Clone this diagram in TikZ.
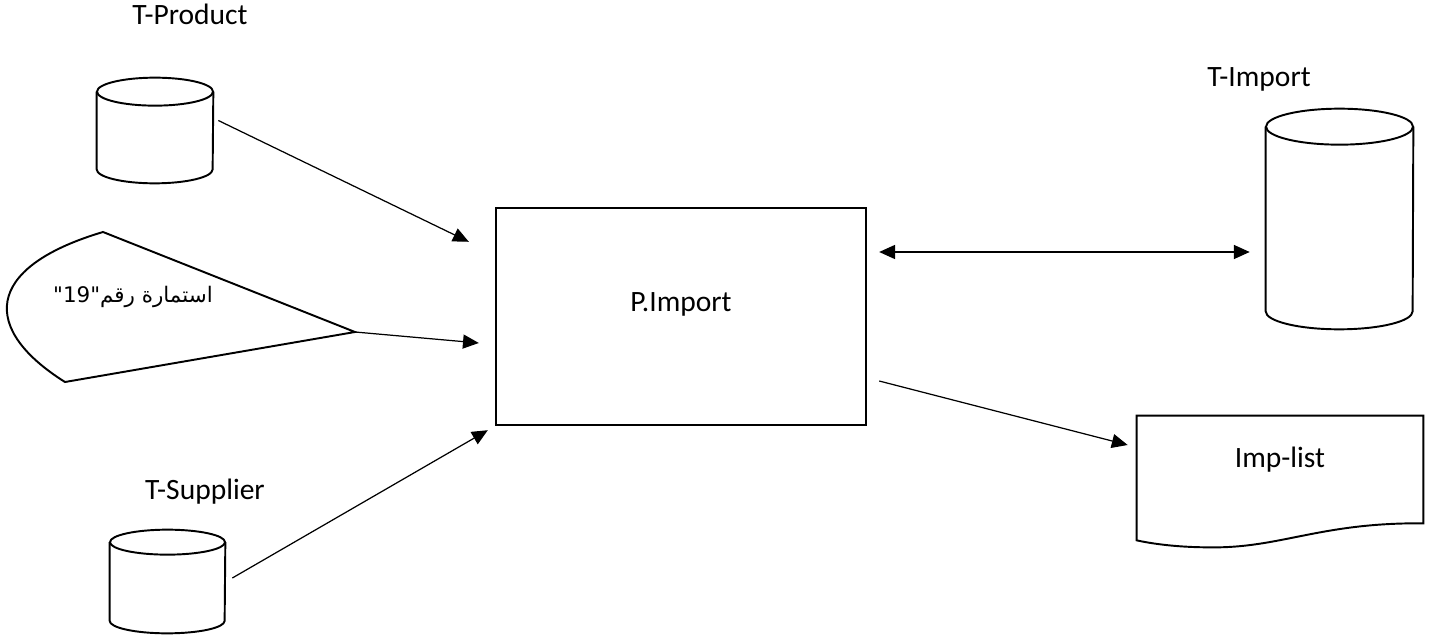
\documentclass[tikz,border=0pt]{standalone}
\usepackage{fontspec}
\setmainfont{Carlito}
\newfontfamily\arabicfont[Script=Arabic]{DejaVu Sans}
\TeXXeTstate=1
\usetikzlibrary{arrows.meta}

\tikzset{
	dbcyl/.style={inner sep=0pt},
	cylline/.style={line width=1.1pt},
	lbl/.style={text height=11pt, text depth=3.5pt},
	flowline/.style={line width=0.7pt}
}
% cylinder round a node: #1 node, #2 x radius, #3 y radius of the ends
\newcommand{\drawcyl}[3]{
	\draw[cylline] ([yshift=-#3]#1.north) ellipse [x radius=#2, y radius=#3];
	\draw[cylline] ([yshift=-#3]#1.north west) -- ([yshift=#3]#1.south west)
		arc[start angle=180, end angle=360, x radius=#2, y radius=#3] -- ([yshift=-#3]#1.north east);
}

\begin{document}
\begin{tikzpicture}[x=0.02cm, y=-0.02cm, font=\fontsize{16.8}{20}\selectfont, >={Triangle[length=9pt,width=8pt]}]
	\useasboundingbox (0,0) rectangle (1436,638);

	%stores
	\node[dbcyl, minimum width=2.32cm, minimum height=2.1cm] (product) at (155,130.5) {};
	\node[dbcyl, minimum width=2.3cm, minimum height=2.06cm] (supplier) at (167.5,581.5) {};
	\node[dbcyl, minimum width=2.94cm, minimum height=4.4cm] (import) at (1339.5,219) {};
	\drawcyl{product}{1.16cm}{0.28cm}
	\drawcyl{supplier}{1.15cm}{0.25cm}
	\drawcyl{import}{1.47cm}{0.36cm}

	%store labels
	\node[lbl] (lblproduct) at (190,18) {T-Product};
	\node[lbl] (lblsupplier) at (205,493) {T-Supplier};
	\node[lbl] (lblimport) at (1259,80) {T-Import};

	%process
	\node[draw, line width=1.4pt, minimum width=7.4cm, minimum height=4.34cm, inner sep=0pt, text depth=16pt] (pimport) at (681,316.5) {P.Import};

	%form
	\coordinate (formtip) at (355,332);
	\draw[line width=1.1pt] (formtip) -- (103,232) .. controls (-18,268) and (-18,330) .. (65,382) -- cycle;
	\node[font=\arabicfont\fontsize{12.2}{15}\selectfont] (form) at (133,297) {\beginR استمارة رقم"\beginL19\endL"\endR};

	%report
	\node[minimum width=5.72cm, minimum height=1.76cm, inner sep=0pt] (implist) at (1280,460) {Imp-list};
	\draw[line width=1.1pt] ([shift={(0,36)}]implist.south west) -- (implist.north west) -- (implist.north east)
		-- ([shift={(0,19)}]implist.south east)
		.. controls ([shift={(-103,18)}]implist.south east) and ([shift={(-143,44)}]implist.south east) .. ([shift={(-213,43)}]implist.south east)
		.. controls ([shift={(-248,43)}]implist.south east) and ([shift={(-273,39)}]implist.south east) .. ([shift={(0,36)}]implist.south west)
		-- cycle;

	%arrows
	\draw[flowline,->] ([shift={(5,-10)}]product.east) -- ([shift={(-26,35)}]pimport.north west);		%product--process
	\draw[flowline,->] (formtip) -- ([shift={(-16,26.5)}]pimport.west);						%form--process
	\draw[flowline,->] ([shift={(7,-3.5)}]supplier.east) -- ([shift={(-7,4)}]pimport.south west);		%supplier--process
	\draw[flowline,<->] ([shift={(12,-64.5)}]pimport.east) -- ([shift={(-16,33)}]import.west);		%process--import
	\draw[flowline,->] ([shift={(12,64.5)}]pimport.east) -- ([shift={(-9,-15)}]implist.west);		%process--report
\end{tikzpicture}
\end{document}
